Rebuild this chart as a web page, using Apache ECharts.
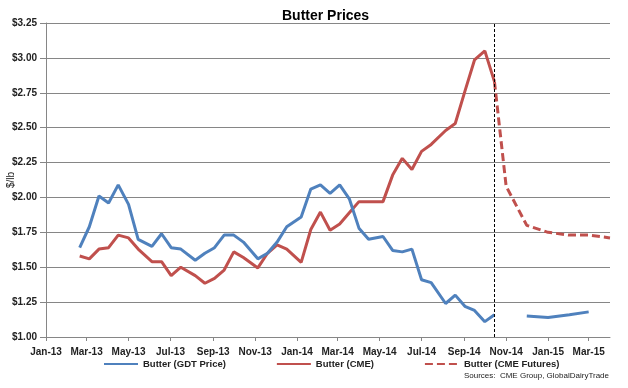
<!DOCTYPE html>
<html>
<head>
<meta charset="utf-8">
<script src="https://cdn.jsdelivr.net/npm/echarts@6/dist/echarts.min.js"></script>
<style>html,body{margin:0;padding:0;background:#fff}#c{width:628px;height:388px}</style>
</head>
<body>
<div id="c"></div>
<script>
// GDT auction dates and prices ($/lb)
const gdtDates = ['2013-02-19','2013-03-05','2013-03-19','2013-04-02','2013-04-16','2013-05-01','2013-05-15','2013-06-04','2013-06-18','2013-07-02','2013-07-16','2013-08-06','2013-08-20','2013-09-03','2013-09-17','2013-10-01','2013-10-15','2013-11-05','2013-11-19','2013-12-03','2013-12-17','2014-01-07','2014-01-21','2014-02-04','2014-02-18','2014-03-04','2014-03-18','2014-04-01','2014-04-15','2014-05-06','2014-05-20','2014-06-03','2014-06-17','2014-07-01','2014-07-15','2014-08-05','2014-08-19','2014-09-02','2014-09-16','2014-10-01','2014-10-15'];
const gdtValues = [1.64,1.79,2.01,1.96,2.09,1.95,1.70,1.65,1.74,1.64,1.63,1.55,1.60,1.64,1.73,1.73,1.68,1.56,1.60,1.68,1.79,1.86,2.06,2.09,2.03,2.09,1.99,1.78,1.70,1.72,1.62,1.61,1.63,1.41,1.39,1.24,1.30,1.22,1.19,1.11,1.16];
// GDT forward prices
const gdtFutDates = ['2014-12-01','2015-01-01','2015-02-01','2015-03-01'];
const gdtFutValues = [1.15,1.14,1.16,1.18];
// CME spot
const cmeDates = gdtDates;
const cmeValues = [1.58,1.56,1.63,1.64,1.73,1.71,1.63,1.54,1.54,1.44,1.50,1.44,1.385,1.42,1.48,1.61,1.57,1.495,1.60,1.66,1.63,1.535,1.77,1.895,1.765,1.81,1.89,1.97,1.97,1.97,2.16,2.28,2.20,2.33,2.38,2.48,2.53,2.76,2.985,3.05,2.83];
// CME futures
const futDates = ['2014-10-15','2014-11-01','2014-12-01','2015-01-01','2015-02-01','2015-03-01','2015-04-01'];
const futValues = [2.83,2.08,1.80,1.75,1.73,1.73,1.71];
const forecastStart = '2014-10-15';
const axisStart = '2013-01-01', axisEnd = '2015-04-01';
const tickLabels = ['Jan-13','Mar-13','May-13','Jul-13','Sep-13','Nov-13','Jan-14','Mar-14','May-14','Jul-14','Sep-14','Nov-14','Jan-15','Mar-15'];
const monthNames = ['Jan','Feb','Mar','Apr','May','Jun','Jul','Aug','Sep','Oct','Nov','Dec'];

const DAY=86400000;
function ts(s){const p=s.split('-');return Math.round(Date.UTC(+p[0],+p[1]-1,+p[2])/DAY);} // days since epoch
function pairs(d,v){return d.map((x,i)=>[ts(x),v[i]]);}
function labelToTs(l){const m=monthNames.indexOf(l.slice(0,3));return Math.round(Date.UTC(2000+ +l.slice(4),m,1)/DAY);}
const tickVals = tickLabels.map(labelToTs);
const tickMap = {}; tickLabels.forEach((l,i)=>tickMap[tickVals[i]]=l);

const BLUE='#4F81BD', RED='#C0504D';
const FONT='Liberation Sans, Arial, sans-serif';
const chart = echarts.init(document.getElementById('c'));
chart.setOption({
  animation:false,
  textStyle:{fontFamily:FONT},
  title:{text:'Butter Prices',left:277,top:4,textStyle:{fontSize:14,fontWeight:'bold',color:'#000',fontFamily:FONT}},
  grid:{left:46,right:18,top:23,bottom:51,containLabel:false,outerBoundsMode:'none'},
  legend:{left:98,top:354,itemWidth:34,itemHeight:10,itemGap:50,
    itemStyle:{opacity:0},
    textStyle:{fontSize:9.5,fontWeight:'bold',color:'#222',fontFamily:FONT},
    data:['Butter (GDT Price)','Butter (CME)','Butter (CME Futures)']},
  graphic:[{type:'text',right:19,top:372,style:{text:'Sources:  CME Group, GlobalDairyTrade',fontSize:8,fill:'#222',fontFamily:FONT}}],
  xAxis:{type:'value',min:ts(axisStart),max:ts(axisEnd),
    splitLine:{show:false},
    axisLine:{lineStyle:{color:'#868686'}},
    axisTick:{show:true,customValues:tickVals,length:4,lineStyle:{color:'#868686'}},
    axisLabel:{customValues:tickVals,color:'#222',fontSize:10,fontWeight:'bold',margin:10,hideOverlap:false,
      formatter:v=>tickMap[v]||''}},
  yAxis:{type:'value',min:1,max:3.25,interval:0.25,name:'$/lb',nameLocation:'middle',nameGap:30,nameRotate:90,nameMoveOverlap:false,
    nameTextStyle:{fontSize:10,fontWeight:'normal',color:'#222'},
    axisLine:{show:true,lineStyle:{color:'#868686'}},
    axisTick:{show:true,length:6,lineStyle:{color:'#868686'}},
    splitLine:{lineStyle:{color:'#868686',width:1}},
    axisLabel:{color:'#222',fontSize:10,fontWeight:'bold',margin:9,formatter:v=>'$'+v.toFixed(2)}},
  series:[
    {name:'Butter (GDT Price)',type:'line',data:pairs(gdtDates,gdtValues),symbol:'none',lineStyle:{color:BLUE,width:3},itemStyle:{color:BLUE},z:3},
    {name:'Butter (CME)',type:'line',data:pairs(cmeDates,cmeValues),symbol:'none',lineStyle:{color:RED,width:3},itemStyle:{color:RED},z:2},
    {name:'Butter (CME Futures)',type:'line',data:pairs(futDates,futValues),symbol:'none',lineStyle:{color:RED,width:3,type:[8,4]},itemStyle:{color:RED},z:2,
      markLine:{silent:true,symbol:'none',label:{show:false},lineStyle:{color:'#000',width:1,type:[3,2]},data:[{xAxis:ts(forecastStart)}]}},
    {name:'Butter (GDT Price)',type:'line',data:pairs(gdtFutDates,gdtFutValues),symbol:'none',lineStyle:{color:BLUE,width:3},itemStyle:{color:BLUE},z:3}
  ]
});
</script>
</body>
</html>
